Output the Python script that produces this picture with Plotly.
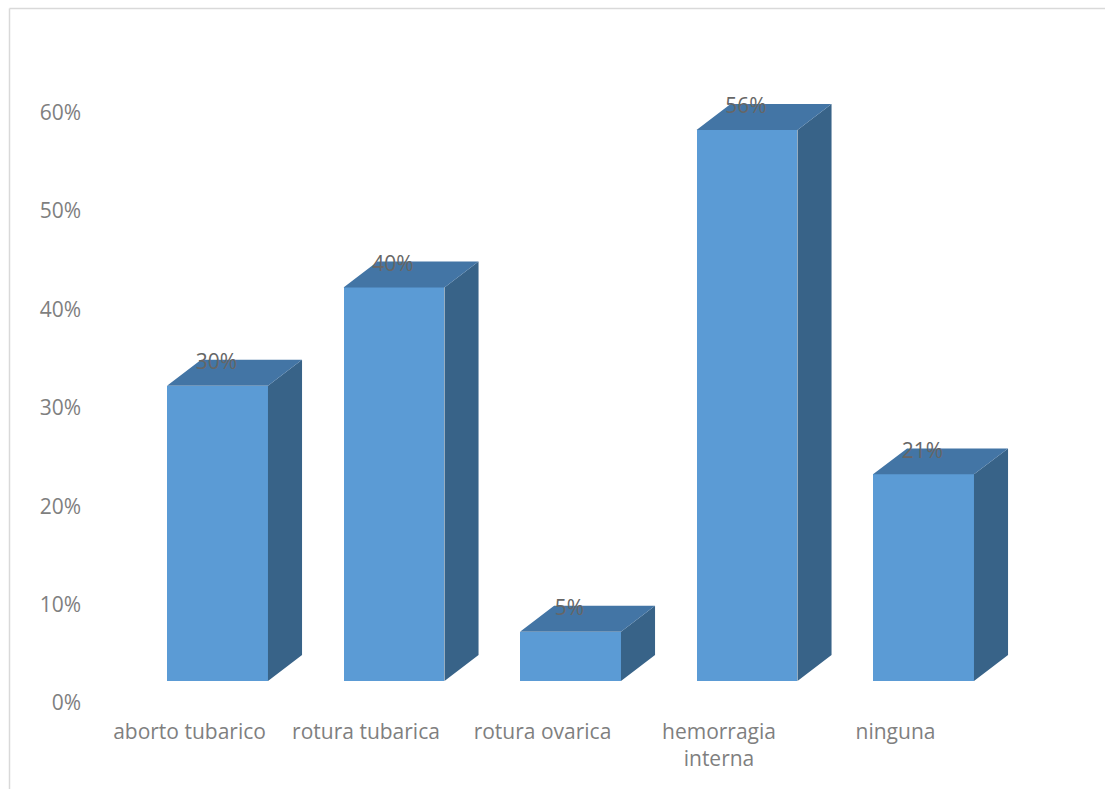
import plotly.graph_objects as go

# Chart data
categories = ["aborto tubarico", "rotura tubarica", "rotura ovarica", "hemorragia<br>interna", "ninguna"]
values = [30, 40, 5, 56, 21]
tick_values = [0, 10, 20, 30, 40, 50, 60]
tick_labels = ["0%", "10%", "20%", "30%", "40%", "50%", "60%"]
value_labels = ["30%", "40%", "5%", "56%", "21%"]

positions = list(range(len(categories)))

# Column shape, in axis units
BAR_WIDTH = 0.572
DEPTH_X = 0.193
DEPTH_Y = 2.64

FRONT = "#5B9BD5"
TOP = "#4375A5"
SIDE = "#386388"
FRAME = "#D9D9D9"
FONT = "Open Sans"

# Page layout in pixels
W, H = 1105, 789
PLOT_L, PLOT_R, PLOT_T, PLOT_B = 85, 1100, 30, 715
ZERO_PX, PCT_PX = 681, 9.84
FIRST_PX, CAT_PX = 217.5, 176.5


def top_face(x, v):
    left, right = x - BAR_WIDTH / 2, x + BAR_WIDTH / 2
    return ([left, right, right + DEPTH_X, left + DEPTH_X, left, None],
            [v, v, v + DEPTH_Y, v + DEPTH_Y, v, None])


def side_face(x, v):
    right = x + BAR_WIDTH / 2
    return ([right, right + DEPTH_X, right + DEPTH_X, right, right, None],
            [0, DEPTH_Y, v + DEPTH_Y, v, 0, None])


def merged(face):
    xs, ys = [], []
    for x, v in zip(positions, values):
        fx, fy = face(x, v)
        xs += fx
        ys += fy
    return xs, ys


fig = go.Figure()
fig.add_bar(x=positions, y=values, width=BAR_WIDTH, marker=dict(color=FRONT, line_width=0))

for face, color in ((side_face, SIDE), (top_face, TOP)):
    xs, ys = merged(face)
    fig.add_scatter(x=xs, y=ys, mode="lines", fill="toself", fillcolor=color,
                    line=dict(width=0, color=color), hoverinfo="skip")

# Value labels sit on the rear edge of each top face
fig.add_scatter(x=[p - 0.006 for p in positions], y=[v + DEPTH_Y - 0.4 for v in values],
                mode="text", text=value_labels, textposition="middle center",
                textfont=dict(family=FONT, size=21, color="#666666"), hoverinfo="skip")


def paper_x(px):
    return (px - PLOT_L) / (PLOT_R - PLOT_L)


def paper_y(px):
    return (PLOT_B - px) / (PLOT_B - PLOT_T)


# Thin chart frame: open at the right and bottom page edges
frame = [
    dict(type="line", xref="paper", yref="paper", x0=paper_x(9.5), x1=paper_x(W),
         y0=paper_y(8.5), y1=paper_y(8.5), line=dict(color=FRAME, width=1.5)),
    dict(type="line", xref="paper", yref="paper", x0=paper_x(9.5), x1=paper_x(9.5),
         y0=paper_y(8.5), y1=paper_y(H), line=dict(color=FRAME, width=1.5)),
]

fig.update_layout(
    width=W, height=H, showlegend=False, bargap=0,
    margin=dict(l=PLOT_L, r=W - PLOT_R, t=PLOT_T, b=H - PLOT_B, autoexpand=False),
    paper_bgcolor="white", plot_bgcolor="white",
    font=dict(family=FONT, size=21, color="#7F7F7F"),
    shapes=frame,
    xaxis=dict(range=[(PLOT_L - FIRST_PX) / CAT_PX, (PLOT_R - FIRST_PX) / CAT_PX],
               tickmode="array", tickvals=positions, ticktext=categories,
               showgrid=False, zeroline=False, showline=False, ticks="",
               ticklabelshift=-28, ticklabelstandoff=2, tickangle=0),
    yaxis=dict(range=[(ZERO_PX - PLOT_B) / PCT_PX, (ZERO_PX - PLOT_T) / PCT_PX],
               tickmode="array", tickvals=tick_values, ticktext=tick_labels,
               showgrid=False, zeroline=False, showline=False, ticks="",
               ticklabelshift=22, ticklabelstandoff=3),
)

fig.write_html("out.html", config=dict(displayModeBar=False))
